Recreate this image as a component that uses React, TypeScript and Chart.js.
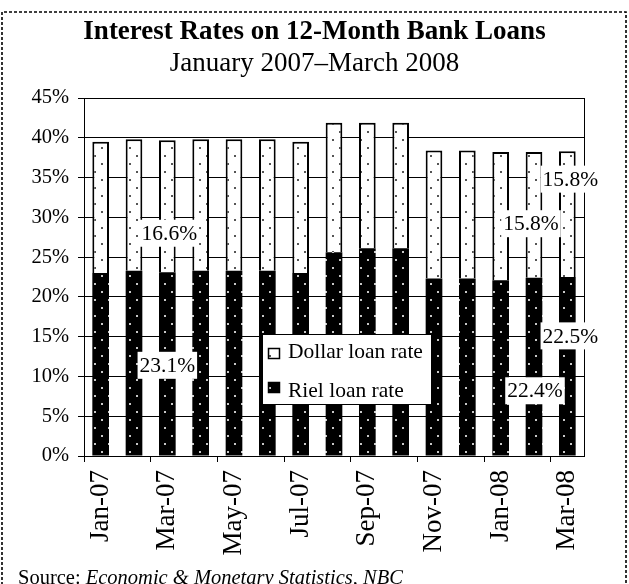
import React, { useEffect, useRef } from 'react';
import { Chart, registerables } from 'chart.js';

Chart.register(...registerables);

const CATEGORIES = ['Jan-07', 'Feb-07', 'Mar-07', 'Apr-07', 'May-07', 'Jun-07', 'Jul-07', 'Aug-07', 'Sep-07', 'Oct-07', 'Nov-07', 'Dec-07', 'Jan-08', 'Feb-08', 'Mar-08'];
const RIEL = [23.0, 23.3, 23.1, 23.3, 23.3, 23.3, 23.0, 25.6, 26.1, 26.1, 22.3, 22.3, 22.1, 22.4, 22.5];
const DOLLAR = [16.5, 16.5, 16.6, 16.5, 16.5, 16.5, 16.5, 16.3, 15.8, 15.8, 16.1, 16.1, 16.1, 15.8, 15.8];
const Y_MIN = 0;
const Y_MAX = 45;
const Y_STEP = 5;

const TITLE = 'Interest Rates on 12-Month Bank Loans';
const SUBTITLE = 'January 2007\u2013March 2008';
const SOURCE_LEAD = 'Source: ';
const SOURCE_ITALIC = 'Economic & Monetary Statistics, NBC';
const LEGEND_LABELS = ['Dollar loan rate', 'Riel loan rate'];

// label annotations: which dataset (0 = riel, 1 = dollar) and category, placed at a y-value with small x shift
const ANNOTATIONS = [
  { ds: 1, idx: 2, at: 28.0, dx: 2 },
  { ds: 0, idx: 2, at: 11.4, dx: 0 },
  { ds: 1, idx: 13, at: 29.2, dx: -3 },
  { ds: 0, idx: 13, at: 8.2, dx: 1 },
  { ds: 1, idx: 14, at: 34.8, dx: 3 },
  { ds: 0, idx: 14, at: 15.1, dx: 3 },
];

const FONT = "'Liberation Serif', 'Times New Roman', serif";

function makePattern(bg: string, dot: string): CanvasPattern | string {
  const c = document.createElement('canvas');
  c.width = 14;
  c.height = 16;
  const g = c.getContext('2d');
  if (!g) return bg;
  g.fillStyle = bg;
  g.fillRect(0, 0, 14, 16);
  g.fillStyle = dot;
  g.fillRect(3, 3, 2, 2);
  g.fillRect(10, 11, 2, 2);
  return g.createPattern(c, 'repeat') || bg;
}

export default function App() {
  const ref = useRef<HTMLCanvasElement | null>(null);

  useEffect(() => {
    document.body.style.margin = '0';
    const canvas = ref.current;
    if (!canvas) return;
    const rielFill = makePattern('#000', '#c8c8c8');
    const dollarFill = makePattern('#fff', '#555');

    const decorPlugin = {
      id: 'decor',
      beforeDatasetsDraw(chart: any) {
        const { ctx, chartArea } = chart;
        ctx.save();
        ctx.strokeStyle = '#000';
        ctx.lineWidth = 1;
        ctx.beginPath();
        ctx.moveTo(Math.round(chartArea.right) + 0.5, chartArea.top);
        ctx.lineTo(Math.round(chartArea.right) + 0.5, chartArea.bottom);
        ctx.stroke();
        ctx.restore();
      },
      afterDraw(chart: any) {
        const { ctx, width } = chart;
        ctx.save();
        // dashed frame
        ctx.strokeStyle = '#000';
        ctx.lineWidth = 1.6;
        ctx.setLineDash([3, 2]);
        ctx.beginPath();
        ctx.moveTo(2, 600);
        ctx.lineTo(2, 12);
        ctx.lineTo(626, 12);
        ctx.lineTo(626, 600);
        ctx.stroke();
        ctx.setLineDash([]);
        // titles
        ctx.fillStyle = '#000';
        ctx.textAlign = 'center';
        ctx.textBaseline = 'alphabetic';
        ctx.font = `bold 27px ${FONT}`;
        ctx.fillText(TITLE, width / 2, 39);
        ctx.font = `27px ${FONT}`;
        ctx.fillText(SUBTITLE, width / 2, 71);
        // source
        ctx.textAlign = 'left';
        ctx.font = `20.5px ${FONT}`;
        ctx.fillText(SOURCE_LEAD, 18, 584);
        const w = ctx.measureText(SOURCE_LEAD).width;
        ctx.font = `italic 20.5px ${FONT}`;
        ctx.fillText(SOURCE_ITALIC, 18 + w, 584);
        ctx.restore();
      },
      afterDatasetsDraw(chart: any) {
        const { ctx, chartArea, scales } = chart;
        ctx.save();
        // value labels
        ctx.font = `21.5px ${FONT}`;
        ctx.textAlign = 'center';
        ctx.textBaseline = 'middle';
        ANNOTATIONS.forEach((a) => {
          const el = chart.getDatasetMeta(a.ds).data[a.idx];
          const values = a.ds === 0 ? RIEL : DOLLAR;
          const text = values[a.idx].toFixed(1) + '%';
          const x = el.x + a.dx;
          const y = scales.y.getPixelForValue(a.at);
          const tw = ctx.measureText(text).width;
          ctx.fillStyle = '#fff';
          ctx.fillRect(x - tw / 2 - 2, y - 13.5, tw + 4, 27);
          ctx.fillStyle = '#000';
          ctx.fillText(text, x, y + 1);
        });
        // legend box
        const lx = Math.round(chartArea.left) + 178;
        const ly = Math.round(chartArea.top) + 236;
        const lw = 169;
        const lh = 70;
        ctx.fillStyle = '#fff';
        ctx.fillRect(lx, ly, lw, lh);
        ctx.strokeStyle = '#000';
        ctx.lineWidth = 1;
        ctx.strokeRect(lx + 0.5, ly + 0.5, lw, lh);
        const fills = [dollarFill, rielFill];
        const sy = [14, 48];
        const ty = [24, 63];
        ctx.textAlign = 'left';
        ctx.textBaseline = 'alphabetic';
        ctx.font = `21.5px ${FONT}`;
        LEGEND_LABELS.forEach((lab, i) => {
          ctx.fillStyle = fills[i] as any;
          ctx.fillRect(lx + 6, ly + sy[i], 12, 11);
          ctx.strokeStyle = '#000';
          ctx.lineWidth = 1.5;
          ctx.strokeRect(lx + 6.5, ly + sy[i] + 0.5, 11, 10);
          ctx.fillStyle = '#000';
          ctx.fillText(lab, lx + 26, ly + ty[i]);
        });
        ctx.restore();
      },
    };

    const chart = new Chart(canvas, {
      type: 'bar',
      data: {
        labels: CATEGORIES,
        datasets: [
          {
            label: LEGEND_LABELS[1],
            data: RIEL,
            backgroundColor: rielFill as any,
            borderColor: '#000',
            borderWidth: 0,
            categoryPercentage: 1,
            barPercentage: 0.5,
          },
          {
            label: LEGEND_LABELS[0],
            data: DOLLAR,
            backgroundColor: dollarFill as any,
            borderColor: '#000',
            borderWidth: 2,
            categoryPercentage: 1,
            barPercentage: 0.5,
          },
        ],
      },
      options: {
        animation: false,
        responsive: false,
        maintainAspectRatio: false,
        layout: { padding: { left: 4, right: 45, top: 98, bottom: 18 } },
        plugins: {
          legend: { display: false },
          title: { display: false },
          tooltip: { enabled: false },
        },
        scales: {
          x: {
            stacked: true,
            offset: true,
            grid: {
              display: true,
              drawOnChartArea: false,
              drawTicks: true,
              tickLength: 6,
              offset: true,
              lineWidth: 1,
              color: (c: any) => (c.index !== undefined && c.index % 2 === 0 ? '#000' : 'rgba(0,0,0,0)'),
            },
            border: { display: true, color: '#000', width: 1 },
            ticks: {
              autoSkip: false,
              maxRotation: 90,
              minRotation: 90,
              padding: 8,
              color: '#000',
              font: { family: FONT, size: 27 },
              callback: (_v: any, i: number) => (i % 2 === 0 ? CATEGORIES[i] : ''),
            },
            afterFit: (s: any) => {
              s.height = 110;
            },
          },
          y: {
            stacked: true,
            min: Y_MIN,
            max: Y_MAX,
            ticks: {
              stepSize: Y_STEP,
              padding: 9,
              color: '#000',
              font: { family: FONT, size: 20.5 },
              callback: (v: any) => v + '%',
            },
            grid: { color: '#000', lineWidth: 1, tickLength: 6, drawTicks: true },
            border: { display: true, color: '#000', width: 1 },
            afterFit: (s: any) => {
              s.width = 80;
            },
          },
        },
      },
      plugins: [decorPlugin],
    } as any);

    return () => {
      chart.destroy();
    };
  }, []);

  return (
    <div style={{ width: 629, height: 584, position: 'relative', background: '#fff' }}>
      <canvas ref={ref} width={629} height={584} style={{ display: 'block' }} />
    </div>
  );
}
